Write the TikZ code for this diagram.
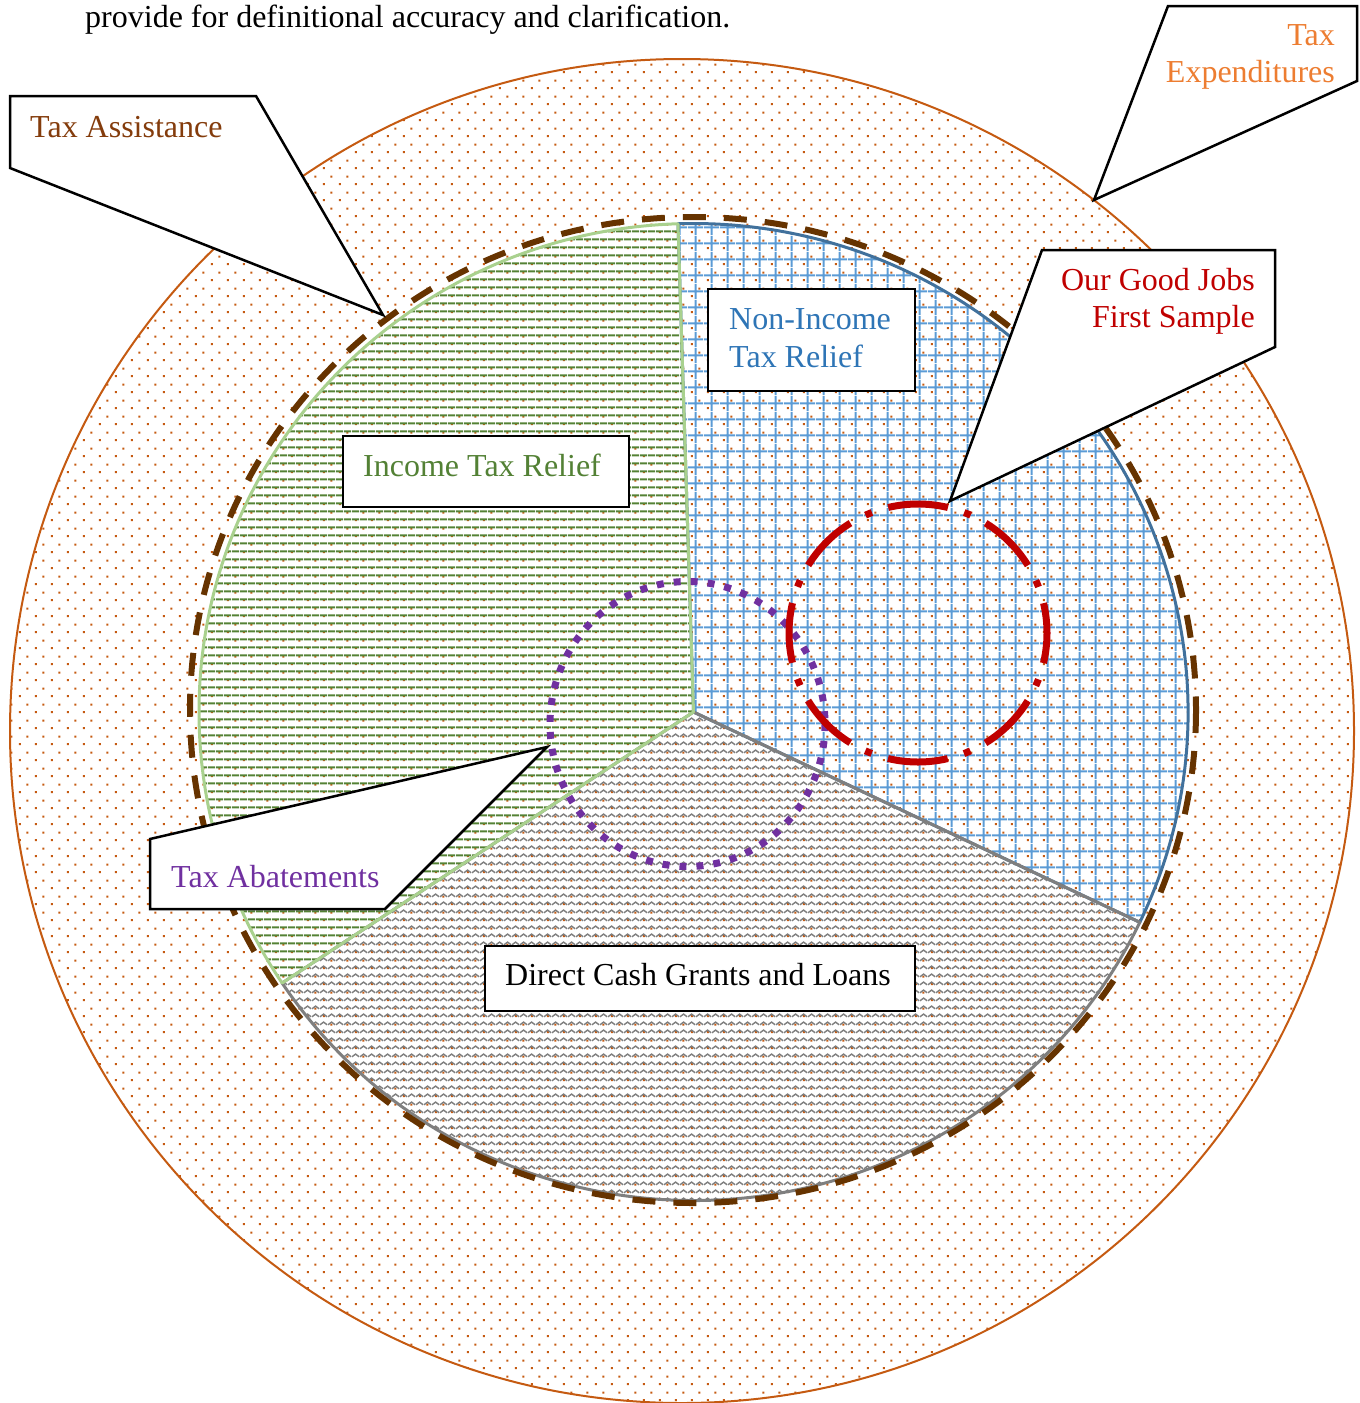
\documentclass[tikz,border=0pt]{standalone}
\usepackage{fontspec}
\setmainfont{Liberation Serif}
\usetikzlibrary{patterns.meta}
\definecolor{dotc}{HTML}{C55A11}
\definecolor{brownd}{HTML}{663300}
\definecolor{tabrown}{HTML}{843C0C}
\definecolor{teorange}{HTML}{ED7D31}
\definecolor{gjred}{HTML}{C00000}
\definecolor{nitblue}{HTML}{2E75B6}
\definecolor{gridblue}{HTML}{5B9BD5}
\definecolor{bordblue}{HTML}{41719C}
\definecolor{itgreen}{HTML}{538135}
\definecolor{linegreen}{HTML}{548235}
\definecolor{bordgreen}{HTML}{A9D18E}
\definecolor{zzgray}{HTML}{7F7F7F}
\definecolor{abpurple}{HTML}{7030A0}

\pgfdeclarepattern{
  name=tdots, type=uncolored,
  bottom left={\pgfpointorigin}, top right={\pgfpoint{16pt}{16pt}},
  tile size={\pgfpoint{16pt}{16pt}},
  code={
    \pgfpathrectangle{\pgfpoint{3pt}{3pt}}{\pgfpoint{2.2pt}{2.2pt}}
    \pgfpathrectangle{\pgfpoint{11pt}{11pt}}{\pgfpoint{2.2pt}{2.2pt}}
    \pgfusepath{fill}
  }
}
\pgfdeclarepattern{
  name=hlinesp, type=uncolored,
  bottom left={\pgfpointorigin}, top right={\pgfpoint{8pt}{8pt}},
  tile size={\pgfpoint{8pt}{8pt}},
  code={
    \pgfpathrectangle{\pgfpoint{0pt}{3pt}}{\pgfpoint{8pt}{2.2pt}}
    \pgfusepath{fill}
  }
}
\pgfdeclarepattern{
  name=gridp, type=uncolored,
  bottom left={\pgfpointorigin}, top right={\pgfpoint{16pt}{16pt}},
  tile size={\pgfpoint{16pt}{16pt}},
  code={
    \pgfpathrectangle{\pgfpoint{0pt}{7pt}}{\pgfpoint{16pt}{2.2pt}}
    \pgfpathrectangle{\pgfpoint{7pt}{0pt}}{\pgfpoint{2.2pt}{16pt}}
    \pgfusepath{fill}
  }
}
\pgfdeclarepattern{
  name=zigzagp, type=uncolored,
  bottom left={\pgfpointorigin}, top right={\pgfpoint{8pt}{8pt}},
  tile size={\pgfpoint{8pt}{8pt}},
  code={
    \pgfsetlinewidth{1.6pt}
    \pgfpathmoveto{\pgfpoint{0pt}{2.5pt}}
    \pgfpathlineto{\pgfpoint{4pt}{5.5pt}}
    \pgfpathlineto{\pgfpoint{8pt}{2.5pt}}
    \pgfusepath{stroke}
  }
}

\begin{document}
\begin{tikzpicture}[x=1pt,y=-1pt,
  txt/.style={inner sep=0pt, font=\fontsize{32}{38}\selectfont},
  boxst/.style={draw=black, line width=2.5pt, fill=white, inner sep=0pt},
  callout/.style={draw=black, line width=2.5pt, fill=white},
  pie/.style={line width=3pt, line join=round}
]
\useasboundingbox (0,0) rectangle (1360,1403);

% top text
\node[txt, anchor=base west] (toptext) at (85,27) {provide for definitional accuracy and clarification.};

% outer circle: tax expenditures
\draw[draw=dotc, line width=2pt, pattern={tdots}, pattern color=dotc] (682,731) circle[radius=672pt];

% pie
\coordinate (pc) at (693.5,712);
\draw[pie, draw=bordblue, fill=white, pattern={gridp}, pattern color=gridblue]
  (pc) -- ++(25.5:494.5 and 488.5) arc[start angle=25.5, end angle=-91.8, x radius=494.5, y radius=488.5] -- cycle;
\draw[pie, draw=zzgray, pattern={zigzagp}, pattern color=zzgray]
  (pc) -- ++(146.3:494.5 and 488.5) arc[start angle=146.3, end angle=25.5, x radius=494.5, y radius=488.5] -- cycle;
\draw[pie, draw=bordgreen, pattern={hlinesp}, pattern color=linegreen]
  (pc) -- ++(-91.8:494.5 and 488.5) arc[start angle=-91.8, end angle=-213.7, x radius=494.5, y radius=488.5] -- cycle;

% tax assistance dashed ellipse
\draw[brownd, line width=6pt, dash pattern=on 23pt off 18pt] (693,710) ellipse[x radius=503, y radius=493];

% purple dotted circle (tax abatements)
\draw[abpurple, line width=7pt, dash pattern=on 7pt off 10pt] (687.5,724) ellipse[x radius=137.5, y radius=142.5];

% red dash-dot circle (good jobs first sample)
\draw[gjred, line width=7pt, dash pattern=on 60.3pt off 17pt on 7pt off 17pt, dash phase=30.15pt] (918,633) circle[radius=129pt];

% rectangle labels
\node[boxst, minimum width=207pt, minimum height=102pt] (nitbox) at (811.5,340) {};
\node[txt, anchor=base west, text=nitblue] (nit1) at (729,329) {Non-Income};
\node[txt, anchor=base west, text=nitblue] (nit2) at (729,367) {Tax Relief};

\node[boxst, minimum width=286pt, minimum height=71pt] (itbox) at (486,471.5) {};
\node[txt, anchor=base west, text=itgreen] (it) at (363,476) {Income Tax Relief};

\node[boxst, minimum width=430pt, minimum height=65pt] (dcbox) at (700,978.5) {};
\node[txt, anchor=base west, text=black] (dc) at (505,985) {Direct Cash Grants and Loans};

% callouts
\coordinate (ta1) at (10,96);   \coordinate (ta2) at (256,96);
\coordinate (ta3) at (383,315); \coordinate (ta4) at (10,168);
\draw[callout] (ta1) -- (ta2) -- (ta3) -- (ta4) -- cycle;
\node[txt, anchor=base west, text=tabrown] (ta) at (30,137) {Tax Assistance};

\coordinate (te1) at (1168,6);   \coordinate (te2) at (1357,6);
\coordinate (te3) at (1357,81);  \coordinate (te4) at (1094,200);
\draw[callout] (te1) -- (te2) -- (te3) -- (te4) -- cycle;
\node[txt, anchor=base east, text=teorange] (te1t) at (1335,45) {Tax};
\node[txt, anchor=base east, text=teorange] (te2t) at (1335,82) {Expenditures};

\coordinate (gj1) at (1042,250);  \coordinate (gj2) at (1275,250);
\coordinate (gj3) at (1275,347);  \coordinate (gj4) at (950,501);
\draw[callout] (gj1) -- (gj2) -- (gj3) -- (gj4) -- cycle;
\node[txt, anchor=base east, text=gjred] (gj1t) at (1255,290) {Our Good Jobs};
\node[txt, anchor=base east, text=gjred] (gj2t) at (1255,327) {First Sample};

\coordinate (ab1) at (150,839);  \coordinate (ab2) at (547,747);
\coordinate (ab3) at (385,909);  \coordinate (ab4) at (150,909);
\draw[callout] (ab1) -- (ab2) -- (ab3) -- (ab4) -- cycle;
\node[txt, anchor=base west, text=abpurple] (ab) at (171,887) {Tax Abatements};
\end{tikzpicture}
\end{document}
